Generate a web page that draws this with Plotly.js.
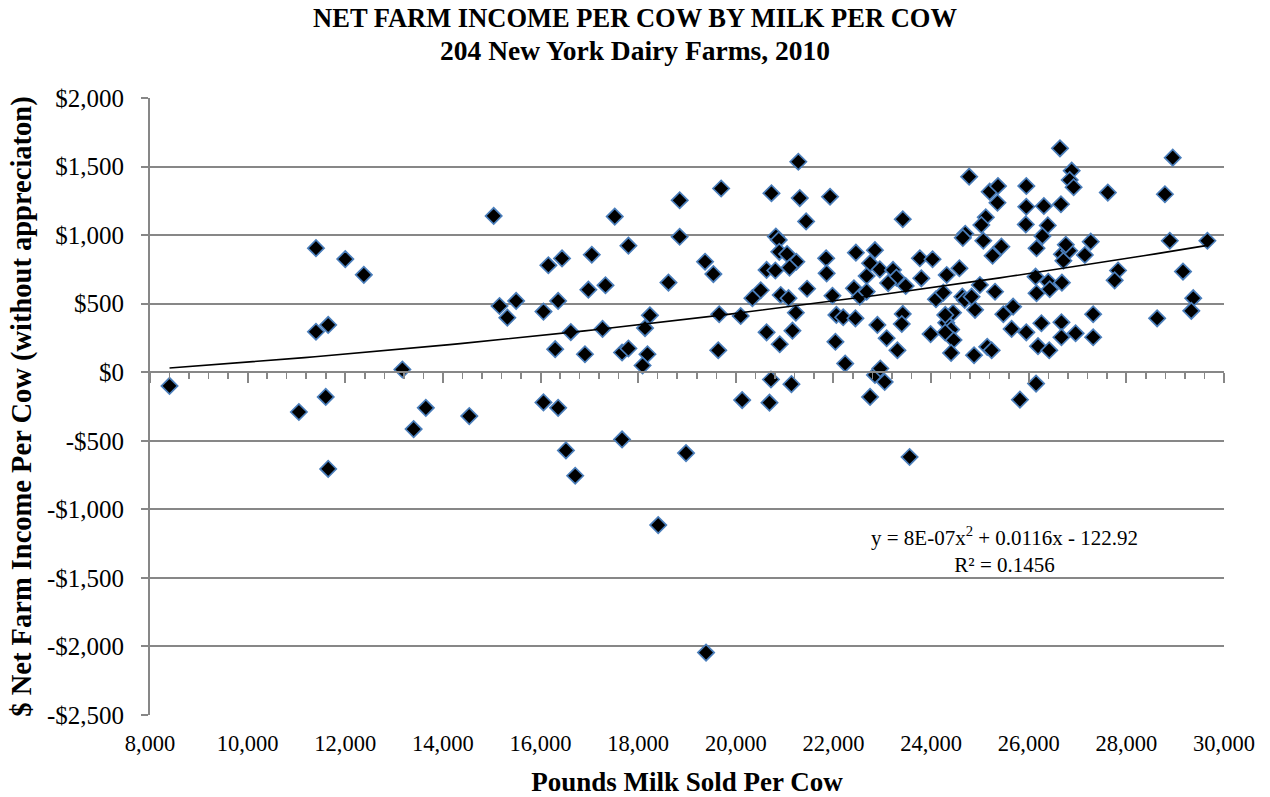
<!DOCTYPE html>
<html>
<head>
<meta charset="utf-8">
<script src="https://cdn.plot.ly/plotly-3.0.1.min.js"></script>
<style>html,body{margin:0;padding:0;background:#fff;}#chart{width:1270px;height:797px;}</style>
</head>
<body>
<div id="chart"></div>
<script>
// Pounds milk sold per cow
const milkPerCow = [
  8400,11050,11400,11400,11650,11600,11650,12000,12380,13170,13400,13650,14540,
  15040,15160,15320,15500,16060,16060,16160,16440,16360,16360,16300,16620,16980,16910,17050,17270,17330,17520,17670,17800,17800,18240,18140,18190,18090,18620,18850,18850,16520,16710,17670,18410,18980,19390,
  21280,19700,20730,21310,21930,21440,23420,20820,20880,19370,19540,20890,21050,21240,21100,20630,20810,21850,21860,22460,22850,22750,22950,23220,23290,22680,23770,24030,23800,24320,24580,24700,24650,24780,
  20510,20340,20920,21080,21460,21980,22420,22540,22680,23480,24100,24250,24640,24690,19660,20100,21230,22060,22200,22450,23420,23400,22900,23090,24310,24410,24460,23990,24410,20630,21160,20900,19640,22040,23310,22240,22850,22960,23050,20720,21140,20130,20690,22750,23560,
  26640,28950,26880,26840,26920,27620,28790,25200,25370,25360,25950,25950,26310,26660,25940,26390,25120,25030,25070,26280,25440,25260,26160,28890,29660,27270,26680,26830,26710,27150,27830,27760,29160,26140,26400,26680,26160,26430,25000,25310,24900,24450,25480,25680,27320,25650,25950,26260,26670,26670,26960,27320,28630,29370,29330,24880,25150,25240,26190,26420,26150,25820,
  23120,24290,24830,24290,26760
];
// Net farm income per cow ($, without appreciation)
const incomePerCow = [
  -100,-290,905,295,345,-180,-705,825,710,20,-415,-260,-320,
  1140,483,398,520,442,-220,780,830,520,-260,168,293,602,131,857,316,634,1135,144,173,923,415,322,131,49,654,1254,988,-570,-755,-490,-1115,-590,-2045,
  1535,1340,1305,1270,1280,1100,1116,990,965,806,716,878,862,806,763,746,742,831,721,872,890,795,750,746,690,702,831,824,685,709,758,1010,980,1426,
  598,540,563,540,609,558,612,551,588,629,532,580,551,527,423,410,434,418,401,393,425,352,345,248,360,311,235,278,141,291,303,204,160,222,160,63,-20,27,-71,-53,-87,-203,-222,-180,-618,
  1633,1565,1470,1402,1349,1310,1298,1317,1358,1236,1358,1207,1212,1225,1078,1071,1130,1074,959,993,916,850,904,959,959,952,860,886,813,855,742,670,734,697,660,653,576,605,636,587,455,434,423,478,423,316,291,357,364,255,284,255,393,540,448,124,185,160,190,160,-83,-200,
  650,290,551,418,930
];
// Axis ticks
const xTickVals = [8000,10000,12000,14000,16000,18000,20000,22000,24000,26000,28000,30000];
const xTickText = ["8,000","10,000","12,000","14,000","16,000","18,000","20,000","22,000","24,000","26,000","28,000","30,000"];
const yTickVals = [-2500,-2000,-1500,-1000,-500,0,500,1000,1500,2000];
const yTickText = ["-$2,500","-$2,000","-$1,500","-$1,000","-$500","$0","$500","$1,000","$1,500","$2,000"];
// Polynomial trendline coefficients shown on the chart: a*x^2 + b*x + c
const trendCoef = [8e-7, 0.0116, -122.92];
const trendLabel = ["y = 8E-07x<sup>2</sup> + 0.0116x - 122.92", "R² = 0.1456"];
const titleLines = ["NET FARM INCOME PER COW BY MILK PER COW", "204 New York Dairy Farms, 2010"];

const xMin = Math.min(...milkPerCow), xMax = Math.max(...milkPerCow);
const trendX = [], trendY = [];
for (let i = 0; i <= 100; i++) {
  const x = xMin + (xMax - xMin) * i / 100;
  trendX.push(x);
  trendY.push(trendCoef[0]*x*x + trendCoef[1]*x + trendCoef[2]);
}

const serif = "'Liberation Serif', 'Times New Roman', serif";
const grid = "#878787";

const data = [
  {
    x: milkPerCow, y: incomePerCow, type: "scatter", mode: "markers",
    marker: {symbol: "diamond", size: 12.5, color: "#000000", line: {color: "#4a7ebb", width: 1.7}},
    hoverinfo: "x+y", showlegend: false
  },
  {
    x: trendX, y: trendY, type: "scatter", mode: "lines",
    line: {color: "#000000", width: 1.6}, hoverinfo: "skip", showlegend: false
  },
  {
    x: [null], y: [null], xaxis: "x2", yaxis: "y", type: "scatter", showlegend: false, hoverinfo: "skip"
  }
];

const layout = {
  width: 1270, height: 797,
  margin: {l: 150, r: 46, t: 98, b: 82},
  paper_bgcolor: "#ffffff", plot_bgcolor: "#ffffff",
  font: {family: serif, color: "#000000", size: 21},
  title: {
    text: "<b>" + titleLines[0] + "</b>",
    font: {family: serif, size: 26.5, color: "#000000"},
    xref: "container", x: 0.5, xanchor: "center",
    yref: "container", y: 1 - 18/797, yanchor: "middle"
  },
  xaxis: {
    range: [8000, 30000], tickvals: xTickVals, ticktext: xTickText,
    showgrid: false, zeroline: false, showline: false,
    ticks: "outside", ticklen: 8, tickcolor: "rgba(0,0,0,0)",
    tickfont: {family: serif, size: 22.5, color: "#000"},
    title: {text: "<b>Pounds Milk Sold Per Cow</b>", font: {family: serif, size: 27, color: "#000"}, standoff: 21}
  },
  xaxis2: {
    overlaying: "x", anchor: "free", position: 2500/4500, side: "bottom",
    range: [8000, 30000], dtick: 2000, tick0: 8000,
    showticklabels: false, showgrid: false, zeroline: false,
    showline: true, linecolor: grid, linewidth: 2,
    ticks: "outside", ticklen: 10, tickcolor: grid, tickwidth: 2,
    minor: {dtick: 400, tick0: 8000, ticks: "outside", ticklen: 6, tickcolor: grid, tickwidth: 1.5}
  },
  yaxis: {
    range: [-2500, 2000], tickvals: yTickVals, ticktext: yTickText,
    showgrid: true, gridcolor: grid, gridwidth: 2, zeroline: false,
    showline: true, linecolor: grid, linewidth: 2,
    ticks: "outside", ticklen: 7, tickcolor: grid, tickwidth: 2,
    ticklabelstandoff: 12,
    tickfont: {family: serif, size: 25, color: "#000"},
    title: {text: "<b>$ Net Farm Income Per Cow (without appreciaton)</b>", font: {family: serif, size: 28.5, color: "#000"}, standoff: 7}
  },
  annotations: [
    {
      xref: "paper", yref: "paper", x: (635 - 150) / 1074, y: (715 - 50) / 617,
      xanchor: "center", yanchor: "middle",
      text: "<b>" + titleLines[1] + "</b>", showarrow: false,
      font: {family: serif, size: 27.5, color: "#000"}
    },
    {
      xref: "x", yref: "y", x: 25510, y: -1293,
      text: trendLabel[0] + "<br>" + trendLabel[1],
      showarrow: false, align: "center",
      font: {family: serif, size: 21, color: "#000"}
    }
  ]
};

Plotly.newPlot("chart", data, layout, {displayModeBar: false, staticPlot: true});
</script>
</body>
</html>
